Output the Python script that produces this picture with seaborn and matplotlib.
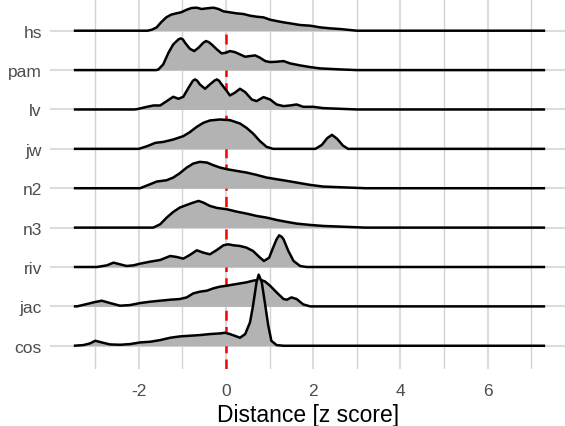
import matplotlib
matplotlib.use("Agg")
import matplotlib.pyplot as plt
import seaborn as sns
import pandas as pd

# ---------------- data ----------------
categories = ["hs", "pam", "lv", "jw", "n2", "n3", "riv", "jac", "cos"]  # top -> bottom
x_ticks = [-2, 0, 2, 4, 6]
x_minor = [-3, -1, 1, 3, 5, 7]
ref_line = 0
x_label = "Distance [z score]"

hs_x = [-3.49, -1.8, -1.7, -1.59, -1.49, -1.37, -1.26, -1.14, -1.03, -0.9, -0.79, -0.67, -0.56, -0.44, -0.29,
        -0.17, -0.06, 0.09, 0.24, 0.4, 0.55, 0.7, 0.86, 1.01, 1.16, 1.32, 1.47, 1.7, 1.93, 2.16, 2.39, 2.62, 3.0, 7.32]
hs_h = [0, 0, 3, 10, 25, 40, 48, 52, 55, 63, 68, 69, 65, 67, 69,
        65, 58, 55, 52, 50, 45, 42, 40, 33, 29, 25, 22, 17, 15, 10, 7, 5, 0, 0]

pam_x = [-3.49, -1.6, -1.55, -1.44, -1.32, -1.21, -1.09, -1.04, -0.99, -0.94, -0.83, -0.73, -0.63, -0.52, -0.46,
         -0.4, -0.33, -0.21, -0.1, 0.0, 0.09, 0.2, 0.32, 0.44, 0.55, 0.67, 0.78, 0.9, 1.01, 1.16, 1.32, 1.47, 1.7,
         1.93, 2.16, 2.62, 3.0, 7.32]
pam_h = [0, 0, 2, 17, 52, 77, 92, 95, 92, 82, 64, 57, 67, 82, 87,
         84, 77, 62, 50, 52, 57, 54, 47, 40, 42, 44, 37, 27, 24, 25, 27, 20, 14,
         9, 5, 2, 0, 0]

lv_x = [-3.49, -2.1, -2.04, -1.81, -1.66, -1.51, -1.36, -1.21, -1.09, -0.98, -0.86, -0.76, -0.71, -0.66, -0.6,
        -0.48, -0.37, -0.26, -0.21, -0.16, -0.1, 0.02, 0.09, 0.2, 0.32, 0.44, 0.59, 0.7, 0.86, 1.01, 1.16, 1.32,
        1.47, 1.62, 1.77, 2.0, 2.23, 2.62, 3.0, 7.32]
lv_h = [0, 0, 1, 8, 12, 12, 25, 38, 32, 38, 65, 86, 90, 86, 75,
        62, 75, 87, 90, 86, 75, 55, 42, 50, 62, 52, 30, 25, 37, 30, 15, 10,
        12, 15, 8, 8, 4, 2, 0, 0]

jw_x = [-3.49, -2.0, -1.81, -1.62, -1.43, -1.21, -0.98, -0.83, -0.67, -0.52, -0.37, -0.14, 0.09, 0.32, 0.47,
        0.62, 0.78, 0.93, 1.08, 2.05, 2.2, 2.32, 2.43, 2.55, 2.68, 2.8, 7.32]
jw_h = [0, 0, 8, 18, 21, 28, 38, 50, 66, 78, 85, 88, 86, 76, 63,
        46, 23, 6, 0, 0, 12, 32, 42, 30, 10, 0, 0]

n2_x = [-3.49, -1.97, -1.74, -1.59, -1.36, -1.21, -1.06, -0.9, -0.75, -0.6, -0.44, -0.29, -0.14, 0.02, 0.24,
        0.47, 0.7, 0.93, 1.16, 1.4, 1.62, 1.93, 2.23, 2.62, 3.2, 7.32]
n2_h = [0, 0, 12, 20, 24, 32, 45, 62, 74, 79, 77, 69, 62, 57, 52,
        47, 40, 32, 27, 22, 17, 10, 5, 3, 0, 0]

n3_x = [-3.49, -1.67, -1.51, -1.36, -1.21, -1.06, -0.9, -0.75, -0.63, -0.52, -0.37, -0.21, 0.02, 0.24, 0.47,
        0.7, 0.93, 1.16, 1.4, 1.62, 1.93, 2.23, 2.62, 3.2, 7.32]
n3_h = [0, 0, 10, 30, 47, 60, 68, 75, 80, 75, 65, 59, 55, 48, 42,
        35, 30, 23, 17, 12, 8, 5, 3, 0, 0]

riv_x = [-3.49, -2.96, -2.73, -2.58, -2.43, -2.28, -2.12, -1.97, -1.74, -1.51, -1.28, -1.13, -0.98, -0.83, -0.67,
         -0.52, -0.37, -0.21, -0.06, 0.05, 0.17, 0.32, 0.47, 0.62, 0.78, 0.87, 0.99, 1.08, 1.16, 1.22, 1.28, 1.32,
         1.43, 1.55, 1.7, 1.85, 7.32]
riv_h = [0, 0, 5, 13, 8, 3, 5, 10, 16, 21, 33, 30, 25, 36, 50,
         43, 38, 51, 65, 68, 65, 63, 58, 48, 28, 18, 28, 58, 83, 95, 90, 83,
         48, 18, 3, 0, 0]

jac_x = [-3.49, -3.42, -3.19, -3.04, -2.85, -2.66, -2.43, -2.2, -1.97, -1.74, -1.51, -1.28, -1.06, -0.9, -0.75,
         -0.6, -0.44, -0.29, -0.14, 0.02, 0.24, 0.47, 0.62, 0.78, 0.89, 1.01, 1.16, 1.32, 1.4, 1.5, 1.62, 1.77,
         1.93, 7.32]
jac_h = [0, 0, 7, 12, 17, 10, 2, 4, 10, 14, 17, 20, 22, 27, 39,
         44, 47, 54, 59, 62, 67, 72, 77, 80, 75, 62, 42, 22, 20, 27, 22, 6,
         0, 0]

cos_x = [-3.49, -3.27, -3.12, -3.0, -2.85, -2.66, -2.43, -2.2, -1.97, -1.74, -1.51, -1.28, -1.06, -0.83, -0.6,
         -0.37, -0.14, -0.02, 0.09, 0.24, 0.32, 0.44, 0.55, 0.62, 0.7, 0.75, 0.82, 0.89, 0.97, 1.04, 1.16, 1.32,
         7.32]
cos_h = [0, 2, 7, 15, 10, 4, 3, 5, 10, 12, 17, 24, 28, 30, 32,
         35, 37, 39, 35, 28, 24, 35, 70, 120, 190, 213, 190, 130, 60, 15, 2, 0,
         0]

series = {"hs": (hs_x, hs_h), "pam": (pam_x, pam_h), "lv": (lv_x, lv_h), "jw": (jw_x, jw_h),
          "n2": (n2_x, n2_h), "n3": (n3_x, n3_h), "riv": (riv_x, riv_h), "jac": (jac_x, jac_h),
          "cos": (cos_x, cos_h)}

# ---------------- style ----------------
HEIGHT_SCALE = 1 / 118.0   # density units -> row spacing
FILL = "#B3B3B3"
LINE_W = 1.8
MAJOR_GRID = "#DCDCDC"
MINOR_GRID = "#D2D2D2"

sns.set_theme(style="white")
plt.rcParams["font.family"] = ["Liberation Sans", "DejaVu Sans"]

W, H = 565, 427
fig = plt.figure(figsize=(W / 100, H / 100), dpi=100)
left_px, bottom_px = 50.3, 370
ax = fig.add_axes([left_px / W, (H - bottom_px) / H, (W - left_px) / W, bottom_px / H])

n = len(categories)
base = {c: n - i for i, c in enumerate(categories)}  # hs -> 9, cos -> 1

ax.set_xlim(-4.03, 7.775)
ax.set_ylim(0.41, 9.805)

# grid
for xv in x_ticks:
    ax.axvline(xv, color=MAJOR_GRID, lw=1.5, zorder=0)
for xv in x_minor:
    ax.axvline(xv, color=MINOR_GRID, lw=1.0, zorder=0)
for c in categories:
    ax.axhline(base[c], color=MAJOR_GRID, lw=1.5, zorder=0)

# reference line (from bottom up to the top ridge baseline)
ax.plot([ref_line, ref_line], [0.41, base["hs"]], color="#FF0000", lw=1.8,
        dashes=(4, 2.5), zorder=1)

# ridges, top to bottom so lower ridges draw over upper ones
for i, c in enumerate(categories):
    xs, hs = series[c]
    df = pd.DataFrame({"x": xs, "y": [base[c] + h * HEIGHT_SCALE for h in hs]})
    z = 2 + i
    ax.fill_between(df["x"], base[c], df["y"], color=FILL, lw=0, zorder=z)
    sns.lineplot(data=df, x="x", y="y", ax=ax, color="black", lw=LINE_W,
                 estimator=None, sort=False, zorder=z + 0.5,
                 solid_joinstyle="round", solid_capstyle="butt")

ax.set_xticks(x_ticks)
ax.set_xticklabels([str(t) for t in x_ticks])
ax.set_yticks([base[c] for c in categories])
ax.set_yticklabels(categories)
ax.tick_params(axis="both", length=0, labelsize=12.5, labelcolor="#4D4D4D")
ax.tick_params(axis="x", pad=10)
ax.tick_params(axis="y", pad=6)
ax.set_xlabel(x_label, fontsize=16.5, color="black", labelpad=4)
ax.set_ylabel("")
for s in ax.spines.values():
    s.set_visible(False)
ax.grid(False)

fig.savefig("out.png", dpi=100)
